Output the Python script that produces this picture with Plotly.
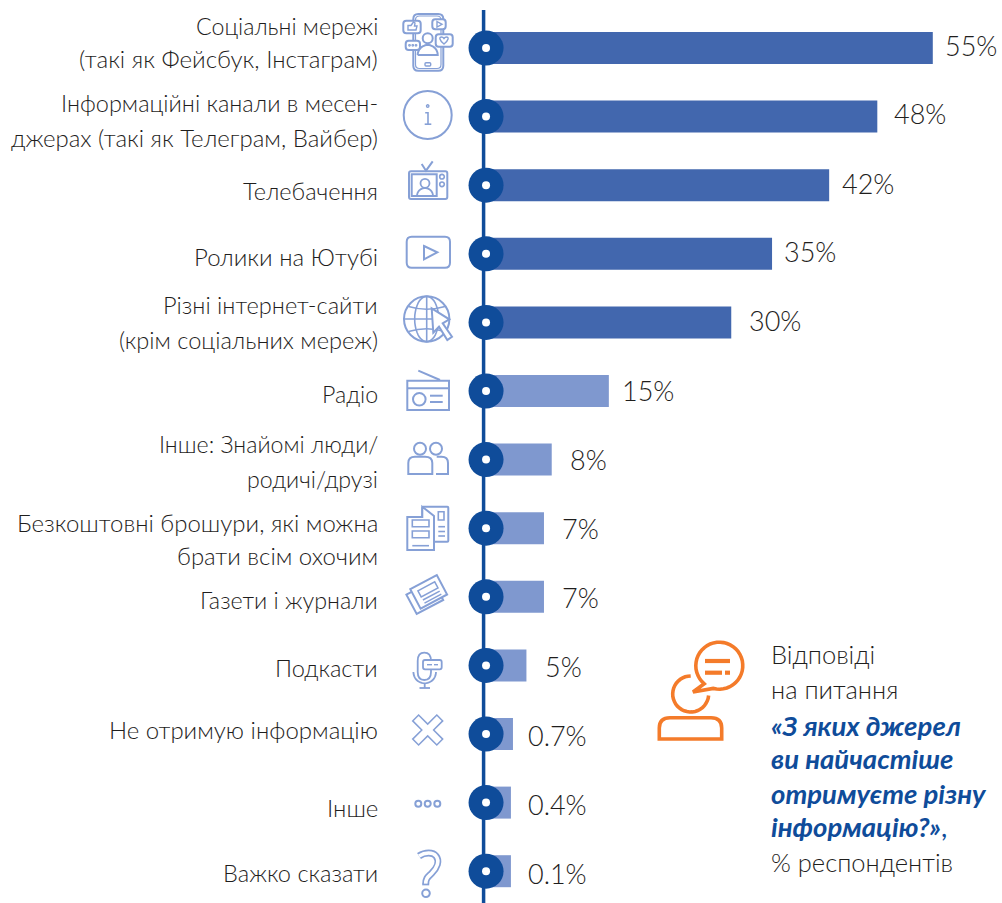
import math
import plotly.graph_objects as go

category_lines = [
    ["Соціальні мережі", "(такі як Фейсбук, Інстаграм)"],
    ["Інформаційні канали в месен-", "джерах (такі як Телеграм, Вайбер)"],
    ["Телебачення"],
    ["Ролики на Ютубі"],
    ["Різні інтернет-сайти", "(крім соціальних мереж)"],
    ["Радіо"],
    ["Інше: Знайомі люди/", "родичі/друзі"],
    ["Безкоштовні брошури, які можна", "брати всім охочим"],
    ["Газети і журнали"],
    ["Подкасти"],
    ["Не отримую інформацію"],
    ["Інше"],
    ["Важко сказати"],
]
value_labels = ["55%", "48%", "42%", "35%", "30%", "15%", "8%", "7%", "7%", "5%", "0.7%", "0.4%", "0.1%"]
# bar lengths as drawn in the picture (the small shares are drawn wider than scale)
drawn_values = [55, 48.2, 42.3, 35.3, 30.3, 15.3, 8.3, 7.35, 7.35, 5.2, 3.55, 3.3, 3.3]
dark_rows = 5

note_lines = ["Відповіді", "на питання", "«З яких джерел", "ви найчастіше", "отримуєте різну", "інформацію?»,", "% респондентів"]

W, H = 1002, 903
PX_PER_PCT = 8.16
X0 = 484
ROW0, ROW_STEP = 48, 68.6
DARK, BAR_D, BAR_L, ICON, ORANGE, TXT = "#0F4C9A", "#4267AE", "#7F98CF", "#86A0D6", "#F47B2A", "#1F1E1D"
FONT = "Lato Light, Lato, sans-serif"

rows = list(range(len(category_lines)))
fig = go.Figure()
fig.add_trace(go.Bar(x=drawn_values, y=rows, orientation="h", width=32 / ROW_STEP,
                     marker=dict(color=[BAR_D if i < dark_rows else BAR_L for i in rows], line=dict(width=0)),
                     hoverinfo="skip"))
fig.add_trace(go.Scatter(x=[0.25] * len(rows), y=rows, mode="markers",
                         marker=dict(size=35, color=DARK, line=dict(width=0)), hoverinfo="skip"))
fig.add_trace(go.Scatter(x=[0.25] * len(rows), y=rows, mode="markers",
                         marker=dict(size=8, color="white", line=dict(width=0)), hoverinfo="skip"))

shapes = []
def add_path(d, color=ICON, w=2, fill=None, ref=("x2", "y2")):
    shapes.append(dict(type="path", path=d, xref=ref[0], yref=ref[1], layer="above",
                       line=dict(color=color, width=w), fillcolor=fill or "rgba(0,0,0,0)"))
def circ(cx, cy, r, color=ICON, w=2, fill=None):
    shapes.append(dict(type="circle", x0=cx - r, x1=cx + r, y0=cy - r, y1=cy + r, xref="x2", yref="y2",
                       layer="above", line=dict(color=color, width=w), fillcolor=fill or "rgba(0,0,0,0)"))
def poly(pts, close=False):
    return "M" + " L".join(f"{x:.1f},{y:.1f}" for x, y in pts) + (" Z" if close else "")
def rrect(x0, y0, x1, y1, r):
    return (f"M{x0+r},{y0} L{x1-r},{y0} Q{x1},{y0} {x1},{y0+r} L{x1},{y1-r} Q{x1},{y1} {x1-r},{y1} "
            f"L{x0+r},{y1} Q{x0},{y1} {x0},{y1-r} L{x0},{y0+r} Q{x0},{y0} {x0+r},{y0} Z")
def arc(cx, cy, rx, ry, a0, a1, n=24):
    return [(cx + rx * math.cos(math.radians(a0 + (a1 - a0) * k / n)),
             cy + ry * math.sin(math.radians(a0 + (a1 - a0) * k / n))) for k in range(n + 1)]
def rot(pts, cx, cy, deg):
    c, s = math.cos(math.radians(deg)), math.sin(math.radians(deg))
    return [(cx + x * c - y * s, cy + x * s + y * c) for x, y in pts]
def box(x0, y0, x1, y1):
    return [(x0, y0), (x1, y0), (x1, y1), (x0, y1)]

# vertical axis
shapes.append(dict(type="line", x0=-0.05, x1=-0.05, y0=-38 / ROW_STEP, y1=(H - ROW0) / ROW_STEP, xref="x", yref="y",
                   layer="below", line=dict(color=DARK, width=3.5)))

# phone icon
add_path(rrect(413.3, 14, 443.3, 70.7, 5))
add_path(rrect(415.5, 16, 441, 68.5, 4), w=1.2)
add_path(rrect(403.3, 20.7, 420.7, 33.3, 3), fill="white")
add_path(poly([(408, 30), (408, 25.5), (411, 25.5), (413.5, 22), (415, 23), (414.5, 26), (417, 26), (416, 30)], True), w=1.4)
add_path(rrect(432.3, 19.3, 445.7, 29.3, 3), fill="white")
add_path(poly([(437, 21.5), (442, 24.3), (437, 27)], True), w=1.4)
add_path(rrect(435.7, 34.3, 452.7, 46.7, 3), fill="white")
add_path("M444,44 C439,40 439,37 441.5,37 C443,37 444,38.5 444,38.5 C444,38.5 445,37 446.5,37 C449,37 449,40 444,44 Z", w=1.4)
add_path(rrect(405.7, 40.7, 420, 50, 3), fill="white")
for x in (409.5, 412.8, 416):
    circ(x, 45.3, 0.8, w=1.2)
circ(427.7, 38.3, 5)
add_path(poly(arc(427.7, 55, 10, 10, 180, 360) + [(417.7, 55)]))
add_path(rrect(425, 62.7, 430.7, 66, 1), w=1.4)

# info icon
circ(427.7, 115, 24)
circ(427.7, 106, 1.2, w=1.4)
add_path(poly([(425.2, 112.7), (428, 112.7), (428, 124)]), w=1.6)
add_path(poly([(424.7, 124.2), (431.3, 124.2)]), w=1.6)

# TV icon
add_path(rrect(409, 171.3, 447.3, 199, 2))
add_path(poly(box(411.7, 174.3, 436.7, 196), True))
add_path(poly([(421.7, 164), (426, 170.7), (432.7, 161.3)]))
circ(442, 176.7, 2.3, w=1.6)
circ(442, 184.3, 2.3, w=1.6)
circ(425, 183.3, 4.5, w=1.8)
add_path(poly(arc(425, 196, 8, 8, 180, 360)), w=1.8)

# video icon
add_path(rrect(406.7, 236.7, 450, 267.7, 5))
add_path(poly([(424, 246), (437.3, 252.3), (424, 259.3)], True))

# globe icon
circ(426.7, 319, 22.7)
add_path(poly(arc(426.7, 319, 12, 22.7, 0, 360, 40), True), w=1.6)
add_path(poly([(426.7, 296.3), (426.7, 341.7)]), w=1.6)
add_path(poly([(404, 319), (449.4, 319)]), w=1.6)
add_path("M408.5,306.5 Q426.7,312 445,306.5", w=1.6)
add_path("M408.5,331.5 Q426.7,326 445,331.5", w=1.6)
add_path(poly([(431.7, 308.3), (449.3, 319.3), (442.7, 323.3), (452, 336.7), (447.3, 340), (439, 326.7), (433.3, 332.7)], True),
         fill="white")

# radio icon
add_path(poly(box(407.3, 380.7, 449, 410), True))
add_path(poly([(407.3, 388.3), (449, 388.3)]))
add_path(poly([(418.3, 370.7), (440, 380)]))
circ(419.3, 399.3, 6.3)
add_path(poly([(430, 395.7), (442.7, 395.7)]))
add_path(poly([(430, 402), (442.7, 402)]))

# people icon
circ(420, 448.7, 6)
circ(436, 448.7, 6)
add_path("M408.3,474 L408.3,463 Q408.3,456.7 415,456.7 L425,456.7 Q432.3,456.7 432.3,463 L432.3,474 Z")
add_path("M436.7,456.7 L441.5,456.7 Q448,456.7 448,463 L448,474 L436,474")

# brochure icon
add_path(rrect(422.3, 506.7, 448.3, 541.7, 1))
add_path(poly([(407.3, 517), (422.3, 517), (422.3, 506.7), (434, 516), (434, 550), (407.3, 550)], True), fill="white")
add_path(poly(box(412.3, 520, 429, 526.7), True), w=1.6)
add_path(poly(box(412.3, 531, 429, 537.7), True), w=1.6)
add_path(poly([(412.3, 545.7), (429, 545.7)]), w=1.6)
add_path(poly(box(438.3, 511.7, 444, 520), True), w=1.6)
add_path(poly([(438.3, 526.7), (445, 526.7)]), w=1.6)
add_path(poly([(438.3, 531.5), (445, 531.5)]), w=1.6)
add_path(poly([(438.3, 536), (445, 536)]), w=1.6)

# newspaper icon
nc = (427, 595)
add_path(poly(rot(box(-18, -10, 12, 12), nc[0], nc[1], -28), True))
add_path(poly(rot(box(-12, -13, 18, 9), nc[0], nc[1], -28), True), fill="white")
add_path(poly(rot(box(-6, -8, 13, -1), nc[0], nc[1], -28), True), w=1.5)
add_path(poly(rot([(-6, 2.5), (13, 2.5)], nc[0], nc[1], -28)), w=1.5)
add_path(poly(rot([(-6, 6), (13, 6)], nc[0], nc[1], -28)), w=1.5)

# microphone icon
add_path("M417.7,661 Q417.7,652.7 424.3,652.7 Q431,652.7 431,661 L431,672 Q431,680 424.3,680 Q417.7,680 417.7,672 Z", w=1.8)
add_path(rrect(423, 660, 441.7, 669.3, 2), fill="white", w=1.8)
add_path(poly([(427, 664.7), (432, 664.7)]), w=1.4)
add_path(poly([(434, 664.7), (438, 664.7)]), w=1.4)
add_path(poly(arc(424.7, 672, 11.3, 11.3, 0, 180)), w=1.8)
add_path(poly([(424.7, 683.3), (424.7, 688)]), w=1.8)
add_path(poly([(419.5, 688), (430, 688)]), w=1.8)

# cross icon
arm, hw = 17, 4.2
cross = [(-hw, -arm), (hw, -arm), (hw, -hw), (arm, -hw), (arm, hw), (hw, hw), (hw, arm), (-hw, arm), (-hw, hw), (-arm, hw), (-arm, -hw), (-hw, -hw)]
add_path(poly(rot(cross, 427.7, 730, 45), True), w=1.5)

# dots icon
for x in (418.3, 427.7, 437.3):
    circ(x, 803.7, 3)

# question mark icon
qpath = "M419,856 C425,852 433,852 436,856 C440,861 437,868 431.7,873.3 C428,877 425.7,878 425.7,884"
add_path(qpath, w=7)
add_path(qpath, color="white", w=3.6)
add_path(poly([(422.2, 884.5), (429.2, 884.5)]), w=1.7)
circ(426, 893.3, 3.8)

# orange icon
OW = 3.6
add_path(poly(arc(719.3, 665.7, 23.5, 23.5, 130, 480 - 15, 40) + [(693, 692)], True), color=ORANGE, w=OW)
add_path(poly(arc(690.7, 694, 18, 18, -90, -90 - 265, 30)), color=ORANGE, w=OW)
add_path("M659.3,739 L659.3,728 Q659.3,717.7 670,717.7 L711,717.7 Q721.7,717.7 721.7,728 L721.7,739 Z", color=ORANGE, w=OW)
add_path(poly([(705, 661), (730, 661)]), color=ORANGE, w=4.2)
add_path(poly([(705, 672.7), (722, 672.7)]), color=ORANGE, w=4.2)
add_path(poly([(725, 672.7), (730, 672.7)]), color=ORANGE, w=4.2)

annotations = []
# category labels
label_y = [[27, 60], [104, 139], [192], [258], [306, 341], [395], [445, 480], [524, 557], [601], [669], [731], [809], [874]]
label_fs = [[23.2, 24.1], [23.5, 24], [23.5], [24], [23.6], [23.2], [23.2, 23.2], [24, 24], [23.3], [23.6], [24], [24], [23.6]]
for lines, ys, fss in zip(category_lines, label_y, label_fs):
    for j, (t, y) in enumerate(zip(lines, ys)):
        annotations.append(dict(text=t, x=380, y=y - 1.5, xref="x2", yref="y2", xanchor="right",
                                yanchor="middle", align="right", showarrow=False,
                                font=dict(family=FONT, size=fss[min(j, len(fss) - 1)], color=TXT)))
# value labels
label_gap = [10, 15, 11, 10, 16, 11, 16, 16, 16, 17, 13, 15, 15]
label_shift = [3, 3, 2, 2, 2, 1, 0, 0, -1, -1, -1, -2, -2]
for i, t in enumerate(value_labels):
    annotations.append(dict(text=t, x=drawn_values[i], y=i, xref="x", yref="y", xanchor="left", yanchor="middle",
                            xshift=label_gap[i], yshift=label_shift[i], showarrow=False,
                            font=dict(family=FONT, size=27, color=TXT)))
# note
note_y = [654, 689, 725, 758, 793, 826, 862]
for i, t in enumerate(note_lines):
    bold = 2 <= i <= 5
    txt = t
    if i == 5:
        txt = "<b><i>інформацію?»</i></b>,"
    elif bold:
        txt = f"<b><i>{t}</i></b>"
    annotations.append(dict(text=txt, x=769, y=note_y[i], xref="x2", yref="y2", xanchor="left", yanchor="middle",
                            showarrow=False,
                            font=dict(family="Lato, sans-serif" if bold else FONT, size=27.5 if bold else 25.5,
                                      color=DARK if bold else TXT)))

fig.update_layout(
    width=W, height=H, margin=dict(l=0, r=0, t=0, b=0), paper_bgcolor="white", plot_bgcolor="white",
    showlegend=False, barmode="overlay", shapes=shapes, annotations=annotations,
    xaxis=dict(range=[-X0 / PX_PER_PCT, (W - X0) / PX_PER_PCT], visible=False, fixedrange=True),
    yaxis=dict(range=[(H - ROW0) / ROW_STEP, -ROW0 / ROW_STEP], visible=False, fixedrange=True),
    xaxis2=dict(range=[0, W], visible=False, overlaying="x", fixedrange=True),
    yaxis2=dict(range=[H, 0], visible=False, overlaying="y", fixedrange=True),
)
fig.write_html("out.html", config=dict(displayModeBar=False),
               post_script="document.body.style.margin='0';document.documentElement.style.overflow='hidden';")
